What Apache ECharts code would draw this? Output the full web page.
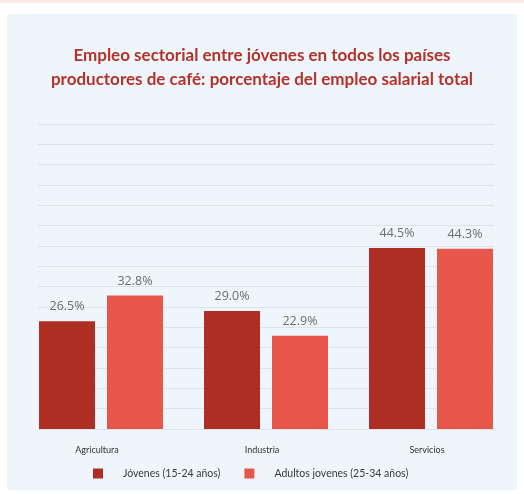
<!DOCTYPE html>
<html>
<head>
<meta charset="utf-8">
<script src="https://cdn.jsdelivr.net/npm/echarts@6/dist/echarts.min.js"></script>
<style>
html,body{margin:0;padding:0;background:#ffffff;}
#chart{width:524px;height:494px;}
</style>
</head>
<body>
<div id="chart"></div>
<script>
const titleText = 'Empleo sectorial entre jóvenes en todos los países\nproductores de café: porcentaje del empleo salarial total';
const categories = ['Agricultura', 'Industria', 'Servicios'];
const seriesNames = ['Jóvenes (15-24 años)', 'Adultos jovenes (25-34 años)'];
const jovenes = [26.5, 29.0, 44.5];
const adultos = [32.8, 22.9, 44.3];
const axisMax = 75;
const axisStep = 5;

const chart = echarts.init(document.getElementById('chart'), null, {renderer: 'canvas'});
const labelFmt = p => p.value.toFixed(1) + '%';
const option = {
  animation: false,
  graphic: [
    {type: 'rect', silent: true, z: -10, shape: {x: 0, y: 0, width: 524, height: 3}, style: {fill: '#fde9e7'}},
    {type: 'rect', silent: true, z: -10, shape: {x: 7, y: 14, width: 510, height: 476}, style: {fill: '#eef6fc'}}
  ],
  title: {
    text: titleText,
    left: 'center',
    top: 39,
    textStyle: {
      fontFamily: 'Lato',
      fontWeight: 'bold',
      fontSize: 17,
      lineHeight: 24,
      color: '#b5322a'
    }
  },
  legend: {
    data: seriesNames,
    left: 93,
    top: 468,
    padding: 0,
    itemWidth: 10,
    itemHeight: 10,
    itemGap: 24,
    icon: 'rect',
    textStyle: {fontFamily: 'Lato', fontSize: 10.5, color: '#3a3a3a', padding: [0, 0, 0, 15]}
  },
  grid: [
    {left: 18.5, right: 10.5, top: 124, bottom: 65},
    {left: 38, right: 30, top: 124, bottom: 65}
  ],
  xAxis: [
    {
      type: 'category', gridIndex: 0, data: categories,
      axisLine: {show: false}, axisTick: {show: false},
      axisLabel: {fontFamily: 'Lato', fontSize: 9, color: '#333', margin: 17, padding: [0, 8, 0, 0]}
    },
    {type: 'category', gridIndex: 1, data: categories, show: false}
  ],
  yAxis: [
    {type: 'value', gridIndex: 0, min: 0, max: axisMax, interval: axisStep, show: false, splitLine: {show: false}},
    {
      type: 'value', gridIndex: 1, min: 0, max: axisMax, interval: axisStep,
      axisLabel: {show: false}, axisLine: {show: false}, axisTick: {show: false},
      splitLine: {lineStyle: {color: '#dbe2ea', width: 1}}
    }
  ],
  series: [
    {
      name: seriesNames[0], type: 'bar', xAxisIndex: 0, yAxisIndex: 0, data: jovenes,
      barWidth: 56, barGap: '21.4%',
      itemStyle: {color: '#ae2e24'},
      label: {show: true, position: 'top', distance: 8, formatter: labelFmt, fontFamily: 'Open Sans', fontSize: 12.5, color: '#6b6e72'}
    },
    {
      name: seriesNames[1], type: 'bar', xAxisIndex: 0, yAxisIndex: 0, data: adultos,
      barWidth: 56, barGap: '21.4%',
      itemStyle: {color: '#e8554a'},
      label: {show: true, position: 'top', distance: 8, formatter: labelFmt, fontFamily: 'Open Sans', fontSize: 12.5, color: '#6b6e72'}
    }
  ]
};
chart.setOption(option);
</script>
</body>
</html>
